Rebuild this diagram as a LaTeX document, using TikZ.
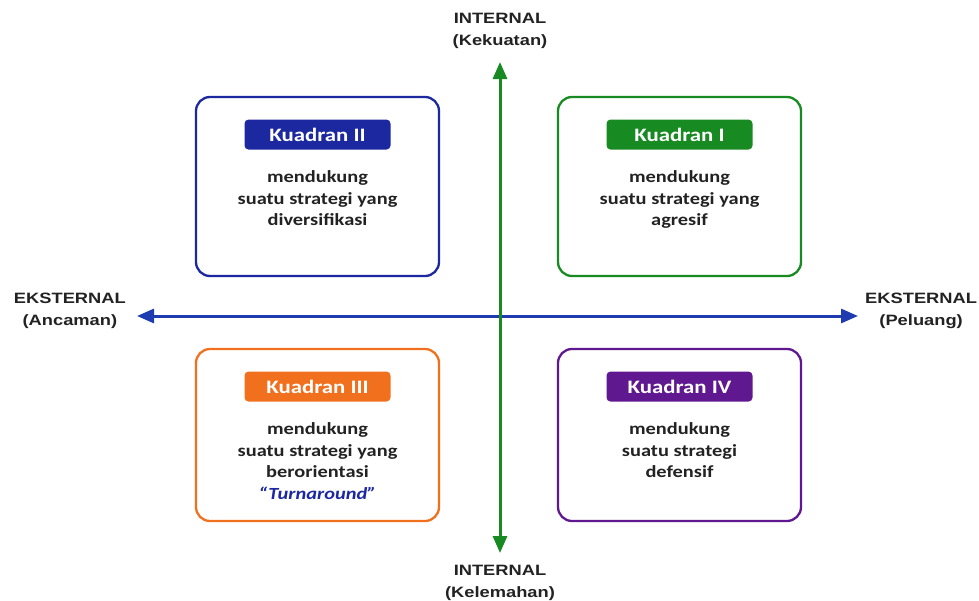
\documentclass[tikz,border=0pt]{standalone}
\usepackage{fontspec}
\newfontfamily\boxfont[FakeStretch=1.2]{Carlito}
\newfontfamily\axisfont[FakeStretch=1.22]{Liberation Sans}
\usetikzlibrary{arrows.meta,positioning}

\definecolor{kblue}{RGB}{27,40,160}
\definecolor{kgreen}{RGB}{24,138,34}
\definecolor{korange}{RGB}{240,112,30}
\definecolor{kpurple}{RGB}{96,24,145}
\definecolor{axblue}{RGB}{30,60,175}
\definecolor{ink}{RGB}{34,34,34}

\begin{document}
\begin{tikzpicture}[x=1pt, y=-1pt, >={Triangle[length=17pt,width=14pt]},
  quad/.style={draw=#1, line width=2.3pt, rounded corners=14pt, minimum width=243pt},
  head/.style={fill=#1, rounded corners=4pt, minimum width=146pt, minimum height=30pt,
    text=white, font=\boxfont\bfseries\fontsize{19}{22}\selectfont},
  body/.style={inner sep=0pt, align=center, text=ink,
    font=\boxfont\bfseries\fontsize{17}{21.5}\selectfont},
  axlabel/.style={align=center, inner sep=0pt, text=ink,
    font=\axisfont\bfseries\fontsize{15}{22}\selectfont},
  axis/.style={line width=3pt}]

\useasboundingbox (0,0) rectangle (979,600);

% quadrant boxes
\foreach \n/\x/\y/\h/\c in {1/679.5/186.5/179/kgreen, 2/317.5/186.5/179/kblue,
                            3/317.5/435/172/korange, 4/679.5/435/172/kpurple}
  \node [quad=\c, minimum height=\h pt] (quad-\n) at (\x,\y) {};

% headers
\foreach \n/\l/\c in {1/I/kgreen, 2/II/kblue, 3/III/korange, 4/IV/kpurple}
  \node [head=\c, anchor=north, yshift=-23.5pt] (head-\n) at (quad-\n.north) {Kuadran \l};

% texts
\node [body, below=21pt of head-1] (text-1) {mendukung\\suatu strategi yang\\agresif};
\node [body, below=21pt of head-2] (text-2) {mendukung\\suatu strategi yang\\diversifikasi};
\node [body, below=21pt of head-3] (text-3) {mendukung\\suatu strategi yang\\berorientasi\\
  {\color{kblue}\itshape “Turnaround”}};
\node [body, below=21pt of head-4] (text-4) {mendukung\\suatu strategi\\defensif};

% axes
\coordinate (west) at (137,316);
\coordinate (east) at (858,316);
\coordinate (north) at (500,62);
\coordinate (south) at (500,553);
\coordinate (origin) at (500,316);

\draw [axis, draw=axblue, fill=axblue, ->] (origin) -- (west);
\draw [axis, draw=axblue, fill=axblue, ->] (origin) -- (east);
\draw [axis, draw=kgreen, fill=kgreen, ->] (origin) -- (north);
\draw [axis, draw=kgreen, fill=kgreen, ->] (origin) -- (south);

\node [axlabel, left=11pt of west, yshift=5pt] (lbl-west) {EKSTERNAL\\(Ancaman)};
\node [axlabel, right=7pt of east, yshift=5pt] (lbl-east) {EKSTERNAL\\(Peluang)};
\node [axlabel, above=13pt of north] (lbl-north) {INTERNAL\\(Kekuatan)};
\node [axlabel, below=12pt of south] (lbl-south) {INTERNAL\\(Kelemahan)};

\end{tikzpicture}
\end{document}
